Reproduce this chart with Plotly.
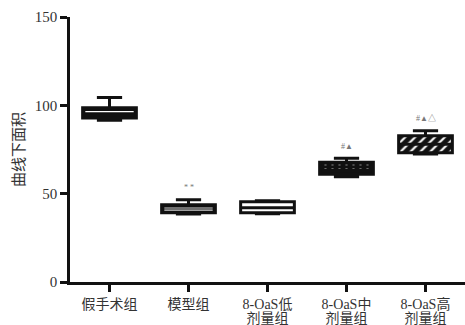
import plotly.graph_objects as go

label_line1 = ["假手术组", "模型组", "8-OaS低", "8-OaS中", "8-OaS高"]
label_line2 = ["", "", "剂量组", "剂量组", "剂量组"]
q1 = [92.8, 39.2, 39.2, 61.0, 73.2]
median = [96.4, 41.9, 42.0, 65.3, 78.0]
q3 = [98.6, 43.7, 45.4, 67.8, 82.8]
lower_fence = [91.5, 38.5, 38.6, 59.6, 72.4]
upper_fence = [104.5, 46.6, 46.0, 70.0, 85.6]
model_mean = 40.7
sig_labels = ["", "* *", "", "#▲", "#▲△"]
y_ticks = [0, 50, 100, 150]

pos = list(range(len(label_line1)))
BW = 0.68
INK = "#111111"
TXT = "#333333"
FONT = "'Liberation Serif', 'Times New Roman', 'Noto Sans CJK SC', serif"

fill_colors = [INK, INK, "white", INK, INK]
patterns = ["", "", "", "", "/"]

fig = go.Figure()

# box fills (bars from q1 to q3)
for i in pos:
    fig.add_trace(go.Bar(
        x=[pos[i]], y=[q3[i] - q1[i]], base=[q1[i]], width=BW,
        marker=dict(color=fill_colors[i], line=dict(width=0), opacity=1,
                    pattern=dict(shape=patterns[i], fillmode="replace", fgcolor="white",
                                 bgcolor=INK, size=7, solidity=0.3)),
        showlegend=False, hoverinfo="skip"))

# dashed white median band for the middle-dose group
i = 3
fig.add_trace(go.Bar(
    x=[pos[i]], y=[2.2], base=[median[i] - 1.1], width=BW * 0.85,
    marker=dict(color=INK, line=dict(width=0), opacity=1,
                pattern=dict(shape="|", fillmode="replace", fgcolor="white", bgcolor=INK,
                             size=7, solidity=0.3)),
    showlegend=False, hoverinfo="skip"))

# box outlines + whiskers
for i in pos:
    fig.add_trace(go.Box(
        x=[pos[i]], q1=[q1[i]], median=[median[i]], q3=[q3[i]],
        lowerfence=[lower_fence[i]], upperfence=[upper_fence[i]],
        width=BW, whiskerwidth=0.47, fillcolor="rgba(0,0,0,0)",
        line=dict(color=INK, width=3), showlegend=False, hoverinfo="skip"))

# light inner lines (sham median, model median and mean)
inner = [(0, median[0], "white"), (1, median[1], "#d0d0d0"), (1, model_mean, "#d0d0d0")]
for i, v, col in inner:
    fig.add_trace(go.Box(
        x=[pos[i]], q1=[v], median=[v], q3=[v], lowerfence=[v], upperfence=[v],
        width=BW * 0.9, whiskerwidth=0, fillcolor="rgba(0,0,0,0)",
        line=dict(color=col, width=1.2), showlegend=False, hoverinfo="skip"))

# invisible trace to carry the second tick-label row axis
fig.add_trace(go.Scatter(x=pos, y=median, xaxis="x2", mode="markers",
                         marker=dict(opacity=0), showlegend=False, hoverinfo="skip"))

for i in pos:
    if sig_labels[i]:
        fig.add_annotation(x=pos[i], y=upper_fence[i], text=sig_labels[i], showarrow=False,
                           yshift=12, font=dict(size=8, color="#777777", family=FONT))

fig.update_layout(
    template="none",
    width=465, height=325, margin=dict(l=70, r=0, t=17, b=43, pad=0),
    paper_bgcolor="white", plot_bgcolor="white",
    barmode="overlay", boxmode="overlay",
    font=dict(family=FONT, color=TXT),
    xaxis=dict(
        range=[-0.5, 4.5], tickvals=pos, ticktext=label_line1, automargin=False,
        showline=True, linecolor=INK, linewidth=2.5, ticks="outside", ticklen=7,
        tickwidth=2.5, tickcolor=INK, showgrid=False, zeroline=False,
        tickfont=dict(size=14, family=FONT, color=TXT),
    ),
    xaxis2=dict(
        overlaying="x", anchor="y", side="bottom", matches="x",
        range=[-0.5, 4.5], tickvals=pos, ticktext=label_line2, automargin=False,
        showline=False, ticks="outside", ticklen=7, tickcolor="rgba(0,0,0,0)",
        showgrid=False, zeroline=False, ticklabelstandoff=16,
        tickfont=dict(size=14, family=FONT, color=TXT),
    ),
    yaxis=dict(
        range=[0, 150], tickvals=y_ticks, automargin=False, showline=True, linecolor=INK,
        linewidth=2.5, ticks="outside", ticklen=7, tickwidth=2.5, tickcolor=INK,
        showgrid=False, zeroline=False, tickfont=dict(size=15, family=FONT, color=TXT),
        title=dict(text="曲线下面积", font=dict(size=15, family=FONT, color=TXT), standoff=7),
    ),
)

fig.write_html("out.html")
